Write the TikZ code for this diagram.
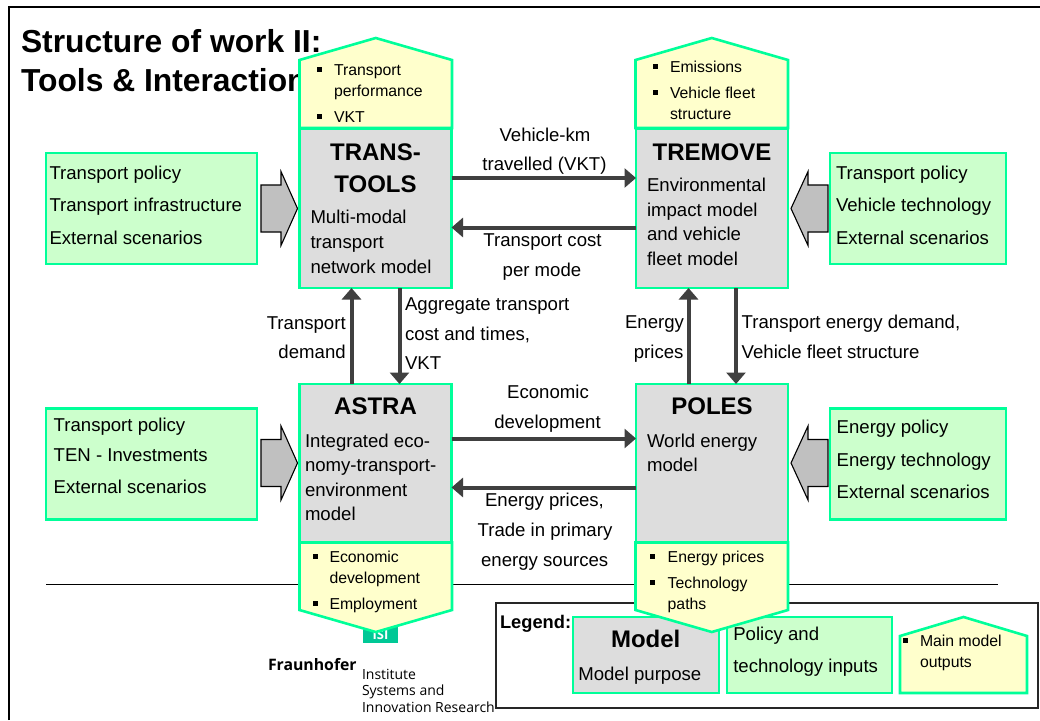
\documentclass[tikz,border=0pt]{standalone}
\usepackage{fontspec}
\setmainfont{Liberation Sans}
\newfontfamily\logofont{Open Sans}
\usetikzlibrary{arrows.meta}
\definecolor{edgegreen}{HTML}{00FF99}
\definecolor{inputfill}{HTML}{CCFFCC}
\definecolor{outputfill}{HTML}{FFFFCC}
\definecolor{modelfill}{HTML}{DDDDDD}
\definecolor{flowgrey}{HTML}{404040}
\definecolor{blockgrey}{HTML}{C0C0C0}
\definecolor{isigreen}{HTML}{00C896}
\newcommand{\fsL}{\fontsize{18.6}{22}\selectfont}
\newcommand{\fsS}{\fontsize{15.8}{19}\selectfont}
\newcommand{\fsH}{\fontsize{24}{28}\selectfont\bfseries}
\newcommand{\fsT}{\fontsize{31.8}{36}\selectfont\bfseries}
\tikzset{
  x=1pt,y=-1pt,
  boxbase/.style={draw=edgegreen,line width=2.6pt,inner sep=0pt,outer sep=0pt},
  modelbox/.style={boxbase,fill=modelfill},
  inputbox/.style={boxbase,fill=inputfill},
  outshape/.style={draw=edgegreen,fill=outputfill,line width=2.6pt,line join=miter},
  blockarrow/.style={draw=black,fill=blockgrey,line width=1.1pt,line join=miter},
  flow/.style={draw=flowgrey,line width=4pt,-{Triangle[length=11.5pt,width=19pt]}},
  tl/.style={inner sep=0pt,outer sep=0pt,anchor=base west,text=black},
  tc/.style={inner sep=0pt,outer sep=0pt,anchor=base,text=black},
  tr/.style={inner sep=0pt,outer sep=0pt,anchor=base east,text=black},
  large/.style={font=\fsL},
  small/.style={font=\fsS},
  head/.style={font=\fsH},
}
% name, x, y, text
\newcommand{\lt}[4]{\node[tl,large] (#1) at (#2,#3) {#4};}
\newcommand{\st}[4]{\node[tl,small] (#1) at (#2,#3) {#4};}
\newcommand{\ct}[4]{\node[tc,large] (#1) at (#2,#3) {#4};}
\newcommand{\rt}[4]{\node[tr,large] (#1) at (#2,#3) {#4};}
\newcommand{\hd}[4]{\node[tc,head] (#1) at (#2,#3) {#4};}
\newcommand{\bul}[2]{\fill[black] (#1,#2-2.5) rectangle (#1+5,#2+2.5);}
% house (up): left, right, apex y, shoulder y, bottom y
\newcommand{\houseup}[5]{\draw[outshape] (#1,#5) -- (#1,#4) -- ({(#1+#2)/2},#3) -- (#2,#4) -- (#2,#5) -- cycle;}
% house (down): left, right, top y, shoulder y, apex y
\newcommand{\housedown}[5]{\draw[outshape] (#1,#3) -- (#1,#4) -- ({(#1+#2)/2},#5) -- (#2,#4) -- (#2,#3) -- cycle;}
% block arrow pointing right: centre y
\newcommand{\blockright}[1]{\draw[blockarrow] (261,#1-23.5) -- (281,#1-23.5) -- (281,#1-37) -- (297.5,#1) -- (281,#1+37) -- (281,#1+23.5) -- (261,#1+23.5) -- cycle;}
\newcommand{\blockleft}[1]{\draw[blockarrow] (828,#1-23.5) -- (808,#1-23.5) -- (808,#1-37) -- (791,#1) -- (808,#1+37) -- (808,#1+23.5) -- (828,#1+23.5) -- cycle;}
\begin{document}
\begin{tikzpicture}
\useasboundingbox (0,0) rectangle (1040,720);
\fill[white] (0,0) rectangle (1040,720);
% page frame
\draw[black,line width=2.2pt] (9,720) -- (9,7) -- (1040,7);
% title
\node[tl,font=\fsT] (title1) at (21,52) {Structure of work II:};
\node[tl,font=\fsT] (title2) at (21,91) {Tools \& Interactions};
% rule
\coordinate (ruleL) at (46,584);
\coordinate (ruleR) at (998,584);
\draw[black,line width=1pt] (ruleL) -- (ruleR);
% logo
\node[fill=isigreen,minimum width=35pt,minimum height=16pt,inner sep=0pt,outer sep=0pt] (isibox) at (380.5,635) {};
\node[tc,font=\logofont\fontsize{13}{15}\selectfont\bfseries,text=white] (isi) at (380.5,639.5) {ISI};
\node[tl,font=\logofont\fontsize{15.8}{18}\selectfont\bfseries] (fraun) at (268,670.5) {Fraunhofer};
\node[tl,font=\logofont\fontsize{14}{16}\selectfont] (inst1) at (362,679) {Institute};
\node[tl,font=\logofont\fontsize{14}{16}\selectfont] (inst2) at (362,695.5) {Systems and};
\node[tl,font=\logofont\fontsize{14}{16}\selectfont] (inst3) at (362,712) {Innovation Research};
% legend frame
\node[draw=black!85,line width=1.5pt,inner sep=0pt,outer sep=0pt,minimum width=542pt,minimum height=105pt] (legend) at (767,655.5) {};
% input boxes
\node[inputbox,minimum width=211pt,minimum height=111pt] (inTT) at (151.5,208.5) {};
\node[inputbox,minimum width=176pt,minimum height=111pt] (inTR) at (918,208.5) {};
\node[inputbox,minimum width=211pt,minimum height=111pt] (inAS) at (151.5,464) {};
\node[inputbox,minimum width=176pt,minimum height=111pt] (inPO) at (918,464) {};
\blockright{208.5}
\blockleft{208.5}
\blockright{463}
\blockleft{463}
% output houses (upper)
\houseup{299.5}{452}{38}{60}{128}
\houseup{635.5}{788}{38}{60}{128}
% models
\node[modelbox,minimum width=152pt,minimum height=159pt] (tt) at (375.5,208.5) {};
\node[modelbox,minimum width=152pt,minimum height=159pt] (tre) at (712,208.5) {};
\node[modelbox,minimum width=152pt,minimum height=158pt] (ast) at (375.5,463) {};
\node[modelbox,minimum width=152pt,minimum height=158pt] (pol) at (712,463) {};
% logo-side lower house
\housedown{299.5}{452}{542.5}{610}{632}
% flows
\draw[flow] ([yshift=30.5pt]tt.east) -- ([yshift=30.5pt]tre.west);
\draw[flow] ([yshift=-19pt]tre.west) -- ([yshift=-19pt]tt.east);
\draw[flow] ([xshift=-24pt]ast.north) -- ([xshift=-24pt]tt.south);
\draw[flow] ([xshift=24pt]tt.south) -- ([xshift=24pt]ast.north);
\draw[flow] ([xshift=-23.5pt]pol.north) -- ([xshift=-23.5pt]tre.south);
\draw[flow] ([xshift=24pt]tre.south) -- ([xshift=24pt]pol.north);
\draw[flow] ([yshift=24.5pt]ast.east) -- ([yshift=24.5pt]pol.west);
\draw[flow] ([yshift=-24.5pt]pol.west) -- ([yshift=-24.5pt]ast.east);
% legend items
\node[tl,font=\fontsize{18.3}{22}\selectfont\bfseries] (legtitle) at (500,628.5) {Legend:};
\node[modelbox,minimum width=146pt,minimum height=76pt] (legmodel) at (646,655) {};
\node[inputbox,minimum width=165pt,minimum height=76pt] (leginput) at (809.5,655) {};
\houseup{900}{1027}{617}{636}{693}
\hd{lgm}{645.7}{647.5}{Model}
\lt{lgp}{578.3}{680}{Model purpose}
\lt{lgi1}{733.3}{640}{Policy and}
\lt{lgi2}{733.3}{672.7}{technology inputs}
\bul{903}{640}
\st{lgo1}{920}{646}{Main model}
\st{lgo2}{920}{667}{outputs}
% POLES output above the legend
\housedown{635.5}{788}{542.5}{610}{632}
% TRANS-TOOLS
\hd{tth1}{375.5}{160}{TRANS-}
\hd{tth2}{375.5}{192}{TOOLS}
\lt{ttd1}{310.5}{223}{Multi-modal}
\lt{ttd2}{310.5}{248}{transport}
\lt{ttd3}{310.5}{273}{network model}
\bul{317}{69.5}
\st{tto1}{334}{75.5}{Transport}
\st{tto2}{334}{96}{performance}
\bul{317}{116.5}
\st{tto3}{334}{122}{VKT}
\lt{tti1}{49.5}{179.5}{Transport policy}
\lt{tti2}{49.5}{211.5}{Transport infrastructure}
\lt{tti3}{49.5}{244.5}{External scenarios}
% TREMOVE
\hd{trh}{712}{160}{TREMOVE}
\lt{trd1}{647}{191.5}{Environmental}
\lt{trd2}{647}{216}{impact model}
\lt{trd3}{647}{240}{and vehicle}
\lt{trd4}{647}{265}{fleet model}
\bul{653}{66}
\st{tro1}{670}{72.5}{Emissions}
\bul{653}{92}
\st{tro2}{670}{98.5}{Vehicle fleet}
\st{tro3}{670}{119.5}{structure}
\lt{tri1}{836}{179.5}{Transport policy}
\lt{tri2}{836}{211.5}{Vehicle technology}
\lt{tri3}{836}{244.5}{External scenarios}
% ASTRA
\hd{ash}{375.5}{414.5}{ASTRA}
\lt{asd1}{305}{447.5}{Integrated eco-}
\lt{asd2}{305}{471.5}{nomy-transport-}
\lt{asd3}{305}{496}{environment}
\lt{asd4}{305}{520}{model}
\bul{312.5}{556}
\st{aso1}{329.5}{562}{Economic}
\st{aso2}{329.5}{583}{development}
\bul{312.5}{603}
\st{aso3}{329.5}{609}{Employment}
\lt{asi1}{53.7}{431}{Transport policy}
\lt{asi2}{53.7}{461}{TEN - Investments}
\lt{asi3}{53.7}{493}{External scenarios}
% POLES
\hd{poh}{712}{414.5}{POLES}
\lt{pod1}{647}{447.5}{World energy}
\lt{pod2}{647}{471.5}{model}
\bul{650}{556}
\st{poo1}{667.7}{562}{Energy prices}
\bul{650}{582}
\st{poo2}{667.7}{588}{Technology}
\st{poo3}{667.7}{609}{paths}
\lt{poi1}{836.7}{433}{Energy policy}
\lt{poi2}{836.7}{466}{Energy technology}
\lt{poi3}{836.7}{498.7}{External scenarios}
% flow labels
\ct{f1a}{545}{141.5}{Vehicle-km}
\ct{f1b}{544.5}{170.5}{travelled (VKT)}
\ct{f2a}{542.5}{246.7}{Transport cost}
\ct{f2b}{542}{276}{per mode}
\lt{f3a}{405}{310.7}{Aggregate transport}
\lt{f3b}{405}{340}{cost and times,}
\lt{f3c}{405}{369}{VKT}
\rt{f4a}{345.7}{329}{Transport}
\rt{f4b}{345.7}{358}{demand}
\rt{f5a}{684}{328.5}{Energy}
\rt{f5b}{683.5}{358}{prices}
\lt{f6a}{741.7}{328.5}{Transport energy demand,}
\lt{f6b}{741.7}{358}{Vehicle fleet structure}
\ct{f7a}{548}{398.3}{Economic}
\ct{f7b}{547.5}{428}{development}
\ct{f8a}{544.5}{506}{Energy prices,}
\ct{f8b}{545}{536}{Trade in primary}
\ct{f8c}{544.7}{566}{energy sources}
\end{tikzpicture}
\end{document}
